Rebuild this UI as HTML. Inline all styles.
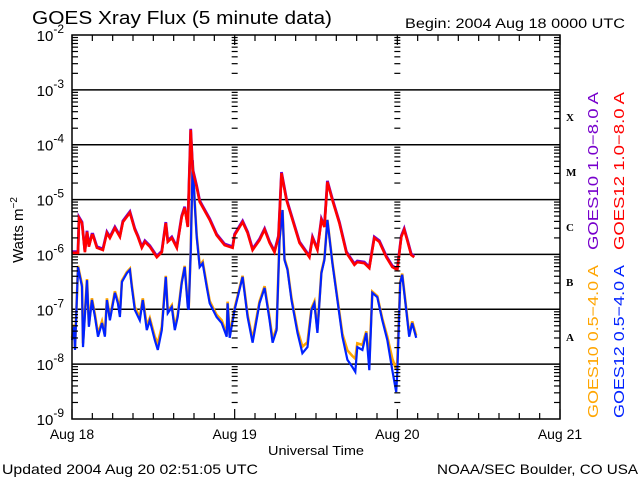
<!DOCTYPE html>
<html><head><meta charset="utf-8"><style>
body{margin:0;background:#fff}
svg{display:block;font-family:"Liberation Sans",sans-serif}
</style></head><body>
<svg id="chart" width="640" height="480" viewBox="0 0 640 480" xmlns="http://www.w3.org/2000/svg">
<rect width="640" height="480" fill="#fff"/>
<text x="32" y="24" font-size="18" textLength="300" lengthAdjust="spacingAndGlyphs">GOES Xray Flux (5 minute data)</text>
<text x="405" y="28" font-size="13.5" textLength="220" lengthAdjust="spacingAndGlyphs">Begin:  2004 Aug 18 0000 UTC</text>
<g id="grid"></g>
<g id="series"></g>
<g id="axes"></g>
<text transform="translate(23,230) rotate(-90)" text-anchor="middle" font-size="15">Watts m<tspan dy="-6" font-size="10">−2</tspan></text>
<text x="268" y="455" font-size="13" textLength="96" lengthAdjust="spacingAndGlyphs">Universal Time</text>
<text x="2" y="474" font-size="14" textLength="256" lengthAdjust="spacingAndGlyphs">Updated 2004 Aug 20 02:51:05 UTC</text>
<text x="437" y="474" font-size="14" textLength="201" lengthAdjust="spacingAndGlyphs">NOAA/SEC Boulder, CO USA</text>
<g font-family="Liberation Serif,serif" font-weight="bold" font-size="11">
<text x="566" y="121">X</text>
<text x="566" y="176">M</text>
<text x="566" y="231">C</text>
<text x="566" y="286">B</text>
<text x="566" y="341">A</text>
</g>
<g font-size="14.5">
<text transform="translate(598,250) rotate(-90)" fill="#7700cc" textLength="158" lengthAdjust="spacingAndGlyphs">GOES10 1.0−8.0 A</text>
<text transform="translate(624,250) rotate(-90)" fill="#ff0000" textLength="158" lengthAdjust="spacingAndGlyphs">GOES12 1.0−8.0 A</text>
<text transform="translate(598,418) rotate(-90)" fill="#ffa500" textLength="153" lengthAdjust="spacingAndGlyphs">GOES10 0.5−4.0 A</text>
<text transform="translate(624,418) rotate(-90)" fill="#0022ff" textLength="153" lengthAdjust="spacingAndGlyphs">GOES12 0.5−4.0 A</text>
</g>
</svg>
<script>
// hours since 2004 Aug 18 00:00 UTC, log10(flux W/m^2)
const longHours = [0,0.88,1.03,1.47,1.91,2.21,2.5,2.94,3.09,3.68,4.56,5.15,5.59,6.33,7.07,7.51,8.54,9.27,9.72,10.3,10.75,11.48,12.51,13.25,13.84,14.13,14.72,15.46,16.19,16.63,17.08,17.52,17.81,18.4,18.84,19.28,20.31,21.34,22.52,23.7,23.99,25.17,25.91,26.64,27.67,28.41,29.15,29.88,30.47,30.91,31.65,32.53,33.56,34.59,35.03,35.48,36.21,36.8,37.24,37.68,38.42,39.45,40.48,41.66,42.1,43.13,43.87,44.6,45.34,46.37,47.25,47.99,48.58,49.02,49.46,50.05,50.49];
const goes12Long = [-5.97,-5.97,-5.34,-5.43,-5.96,-5.59,-5.86,-5.65,-5.65,-5.88,-5.92,-5.61,-5.70,-5.52,-5.68,-5.41,-5.24,-5.55,-5.68,-5.88,-5.77,-5.86,-6.05,-5.96,-5.43,-5.77,-5.70,-5.88,-5.32,-5.15,-5.50,-3.73,-4.46,-4.77,-5.04,-5.14,-5.37,-5.65,-5.83,-5.88,-5.65,-5.41,-5.61,-5.92,-5.74,-5.55,-5.79,-5.96,-5.68,-4.52,-5.01,-5.37,-5.79,-5.97,-6.05,-5.70,-5.92,-5.37,-5.50,-4.68,-5.01,-5.43,-5.97,-6.19,-6.14,-6.16,-6.25,-5.70,-5.77,-6.05,-6.23,-6.28,-5.68,-5.55,-5.74,-6.01,-6.05];
const goes10Long = [-5.95,-5.95,-5.32,-5.41,-5.94,-5.57,-5.84,-5.63,-5.63,-5.86,-5.90,-5.59,-5.68,-5.50,-5.66,-5.39,-5.22,-5.53,-5.66,-5.86,-5.75,-5.84,-6.03,-5.94,-5.41,-5.75,-5.68,-5.86,-5.30,-5.13,-5.48,-3.71,-4.44,-4.75,-5.02,-5.12,-5.35,-5.63,-5.81,-5.86,-5.63,-5.39,-5.59,-5.90,-5.72,-5.53,-5.77,-5.94,-5.66,-4.50,-4.99,-5.35,-5.77,-5.95,-6.03,-5.68,-5.90,-5.35,-5.48,-4.66,-4.99,-5.41,-5.95,-6.17,-6.12,-6.14,-6.23,-5.68,-5.75,-6.03,-6.21,-6.26,-5.66,-5.53,-5.72,-5.99,-6.03];
const shortHours = [0,0.29,0.44,0.88,1.47,1.62,2.21,2.5,2.94,3.39,3.83,4.42,4.86,5.15,5.59,6.33,6.77,7.07,7.36,8.1,8.54,8.83,9.27,10.0,10.45,11.04,11.48,12.22,12.66,13.25,13.84,14.13,14.72,15.16,15.6,16.19,16.63,17.08,17.22,17.52,17.81,18.1,18.4,18.84,19.28,19.87,20.31,21.34,22.08,22.82,22.96,23.26,23.99,25.17,25.91,26.64,27.67,28.41,29.15,29.59,30.18,30.62,31.06,31.35,31.8,32.38,33.27,34.0,34.74,35.33,35.77,36.21,36.8,37.24,37.68,38.42,39.16,39.89,40.63,41.36,41.8,42.1,42.84,43.42,43.87,44.31,45.04,45.78,46.52,47.25,47.84,47.99,48.43,48.72,49.31,49.75,50.2,50.78];
const goes12Short = [-7.56,-7.32,-7.74,-6.23,-6.59,-7.69,-6.47,-7.32,-6.83,-7.14,-7.50,-7.25,-7.50,-6.83,-7.20,-6.70,-6.89,-7.14,-6.50,-6.34,-6.28,-6.59,-7.01,-7.20,-6.83,-7.38,-7.20,-7.56,-7.74,-7.38,-6.41,-7.07,-6.96,-7.38,-7.14,-6.52,-6.23,-6.96,-7.01,-5.97,-4.28,-5.06,-5.68,-6.23,-6.16,-6.59,-6.89,-7.14,-7.25,-7.50,-6.89,-7.52,-7.01,-6.41,-7.14,-7.61,-6.89,-6.61,-7.20,-7.61,-7.38,-5.74,-5.19,-6.10,-6.28,-6.83,-7.43,-7.80,-7.69,-7.01,-6.89,-7.43,-6.34,-6.10,-5.37,-6.16,-6.83,-7.50,-7.92,-8.05,-8.14,-7.69,-7.74,-7.43,-8.11,-6.70,-6.78,-7.20,-7.56,-8.11,-8.51,-8.16,-6.52,-6.37,-7.01,-7.50,-7.25,-7.52];
const goes10Short = [-7.52,-7.28,-7.70,-6.21,-6.55,-7.62,-6.45,-7.28,-6.80,-7.10,-7.45,-7.22,-7.46,-6.80,-7.16,-6.67,-6.85,-7.08,-6.48,-6.32,-6.26,-6.56,-6.96,-7.15,-6.80,-7.30,-7.16,-7.50,-7.62,-7.32,-6.39,-7.04,-6.93,-7.33,-7.10,-6.50,-6.21,-6.93,-6.98,-5.95,-4.30,-5.04,-5.65,-6.20,-6.13,-6.55,-6.85,-7.10,-7.20,-7.45,-6.86,-7.47,-6.98,-6.39,-7.10,-7.55,-6.86,-6.58,-7.16,-7.55,-7.34,-5.72,-5.19,-6.08,-6.26,-6.80,-7.38,-7.68,-7.60,-6.98,-6.86,-7.38,-6.32,-6.08,-5.37,-6.14,-6.80,-7.45,-7.75,-7.85,-7.90,-7.62,-7.65,-7.40,-7.95,-6.68,-6.76,-7.17,-7.50,-7.90,-8.10,-7.95,-6.50,-6.35,-6.98,-7.46,-7.22,-7.48];
const decadeLabels = [-2,-3,-4,-5,-6,-7,-8,-9];
const dayLabels = ["Aug 18","Aug 19","Aug 20","Aug 21"];

const NS="http://www.w3.org/2000/svg";
const L=72,R=560,T=35,B=419;
const xs=h=>L+(h/72)*(R-L);
const ys=v=>T+(-2-v)*(B-T)/7;
function mk(tag,attrs,parent){const e=document.createElementNS(NS,tag);for(const k in attrs)e.setAttribute(k,attrs[k]);parent.appendChild(e);return e;}
const grid=document.getElementById('grid'),axes=document.getElementById('axes'),ser=document.getElementById('series');

for(let i=1;i<7;i++){
  const d=decadeLabels[i];
  const ln=mk('line',{x1:L,x2:R,y1:ys(d),y2:ys(d),stroke:'#000','stroke-width':1.5},grid);
  
  
}
const frame=mk('rect',{x:L,y:T,width:R-L,height:B-T,fill:'none',stroke:'#000','stroke-width':1.5},axes);



decadeLabels.forEach(d=>{
  const t=mk('text',{x:L-8,y:ys(d)+6,'text-anchor':'end','font-size':15},axes);
  
  
  t.innerHTML='10<tspan dy="-8" font-size="12">'+d+'</tspan>';
});
const xCols=[[L,6],[R,-6],[xs(24)-3,6],[xs(48)-3,6]];
for(let d=-9;d<-2;d++){
  for(let m=2;m<10;m++){
    const y=ys(d+Math.log10(m));
    xCols.forEach(([x0,len])=>{mk('line',{x1:x0,x2:x0+len,y1:y,y2:y,stroke:'#000','stroke-width':1.2},axes);});
  }
}
for(let h=0;h<=72;h+=3){
  const x=xs(h),len=(h%24===0)?10:6;
  mk('line',{x1:x,x2:x,y1:T,y2:T+len,stroke:'#000','stroke-width':1.2},axes);
  mk('line',{x1:x,x2:x,y1:B,y2:B-len,stroke:'#000','stroke-width':1.2},axes);
}
dayLabels.forEach((s,i)=>{
  const t=mk('text',{x:xs(i*24),y:439,'text-anchor':'middle','font-size':14},axes);
  
  
  t.textContent=s;
});
function line(hours,vals,color,w,name){
  const pts=hours.map((h,i)=>xs(h).toFixed(1)+','+ys(vals[i]).toFixed(1)).join(' ');
  const p=mk('polyline',{points:pts,fill:'none',stroke:color,'stroke-width':w,'stroke-linejoin':'miter'},ser);
  
  
}
line(shortHours,goes10Short,'#ffa500',2.6,'goes10-short-line');
line(shortHours,goes12Short,'#0022ff',2.2,'goes12-short-line');
line(longHours,goes10Long,'#7700cc',2.8,'goes10-long-line');
line(longHours,goes12Long,'#ff0000',2.6,'goes12-long-line');
</script>
</body></html>
